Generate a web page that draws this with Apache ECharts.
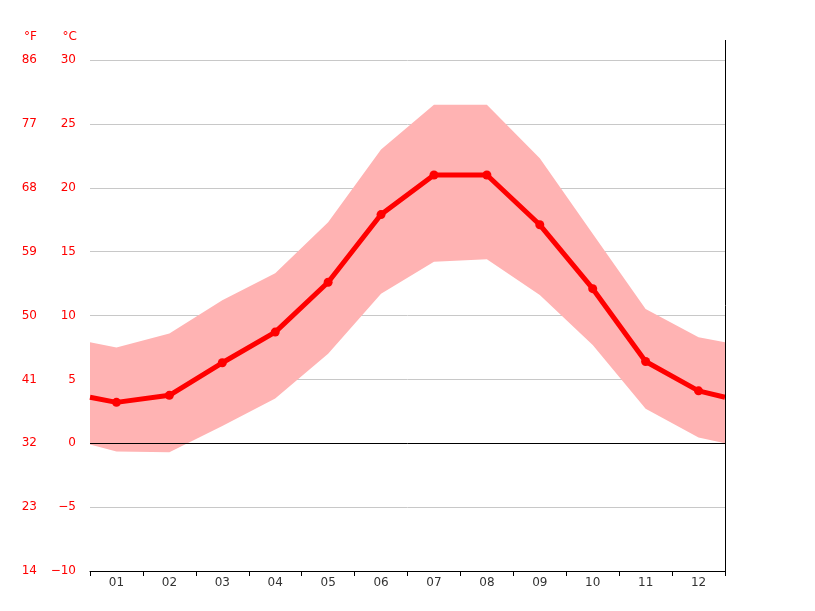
<!DOCTYPE html>
<html>
<head>
<meta charset="utf-8">
<script src="https://cdn.jsdelivr.net/npm/echarts@6/dist/echarts.min.js"></script>
<style>html,body{margin:0;padding:0;background:#fff}#c{width:815px;height:611px}</style>
</head>
<body>
<div id="c"></div>
<script>
var months = ['01','02','03','04','05','06','07','08','09','10','11','12'];
// x positions: 0.5 and 12.5 are the chart edges, 1..12 month centres
var xPos = [0.5,1,2,3,4,5,6,7,8,9,10,11,12,12.5];
var meanTemp = [3.6,3.2,3.75,6.3,8.7,12.6,17.9,21.0,21.0,17.1,12.1,6.4,4.1,3.6];
var maxTemp  = [7.9,7.5,8.6,11.2,13.3,17.3,23.0,26.5,26.5,22.3,16.4,10.5,8.3,7.9];
var minTemp  = [-0.1,-0.65,-0.7,1.35,3.5,7.0,11.7,14.2,14.4,11.6,7.7,2.7,0.45,0.0];
var ticksC = [-10,-5,0,5,10,15,20,25,30];
var ticksF = [14,23,32,41,50,59,68,77,86];

var chart = echarts.init(document.getElementById('c'), null, {renderer:'canvas'});
var labelFont = {color:'#ff0000', fontSize:12, fontFamily:'DejaVu Sans'};
function fmtC(v){ return v < 0 ? '\u2212' + Math.abs(v) : String(v); }
function fmtF(v){ var i = ticksC.indexOf(v); return i >= 0 ? String(ticksF[i]) : ''; }

var lineData = xPos.map(function(x,i){
  var edge = (i === 0 || i === xPos.length-1);
  return {value:[x, meanTemp[i]], symbol: edge ? 'none' : 'circle'};
});

chart.setOption({
  animation:false,
  grid:{left:90, right:90, top:60, bottom:40},
  xAxis:[
    {type:'category', data:months, boundaryGap:true, position:'bottom',
     axisLine:{onZero:false, lineStyle:{color:'#000', width:1}},
     axisTick:{show:true, length:5, lineStyle:{color:'#000'}},
     axisLabel:{color:'#333', fontSize:12, fontFamily:'DejaVu Sans', margin:6},
     splitLine:{show:false}},
    {type:'value', min:0.5, max:12.5, show:false}
  ],
  yAxis:[
    {type:'value', min:-10, max:30, interval:5, position:'left',
     name:'°C', nameLocation:'end', nameGap:17,
     nameTextStyle:Object.assign({align:'right', padding:[0,13,0,0]}, labelFont),
     axisLine:{show:false}, axisTick:{show:false},
     axisLabel:Object.assign({margin:14, formatter:fmtC, padding:[2,0,0,0]}, labelFont),
     splitLine:{lineStyle:{color:'#c8c8c8', width:1}}},
    {type:'value', min:-10, max:30, interval:5, position:'left', offset:40,
     name:'°F', nameLocation:'end', nameGap:17,
     nameTextStyle:Object.assign({align:'right', padding:[0,13,0,0]}, labelFont),
     axisLine:{show:false}, axisTick:{show:false},
     axisLabel:Object.assign({margin:13, formatter:fmtF, padding:[2,0,0,0]}, labelFont),
     splitLine:{show:false}}
  ],
  series:[
    {type:'custom', xAxisIndex:1, yAxisIndex:0, z:1,
     data:xPos.map(function(x,i){return [x, minTemp[i], maxTemp[i]];}),
     renderItem:function(params, api){
       if (params.dataIndex !== 0) return null;
       var pts = [];
       for (var i=0;i<xPos.length;i++) pts.push(api.coord([xPos[i], maxTemp[i]]));
       for (var j=xPos.length-1;j>=0;j--) pts.push(api.coord([xPos[j], minTemp[j]]));
       return {type:'polygon', shape:{points:pts}, style:{fill:'#ffb3b3', stroke:null}};
     },
     silent:true},
    {type:'line', xAxisIndex:1, yAxisIndex:0, z:3,
     data:lineData, symbolSize:9,
     lineStyle:{color:'#ff0000', width:5},
     itemStyle:{color:'#ff0000'},
     markLine:{silent:true, symbol:['none','none'], label:{show:false},
       lineStyle:{color:'#000', width:1, type:'solid'},
       data:[{yAxis:0}], z:2}
    }
  ],
  graphic:[
    {type:'line', shape:{x1:725.5, y1:40, x2:725.5, y2:571}, style:{stroke:'#000', lineWidth:1}, z:10}
  ]
});
</script>
</body>
</html>
